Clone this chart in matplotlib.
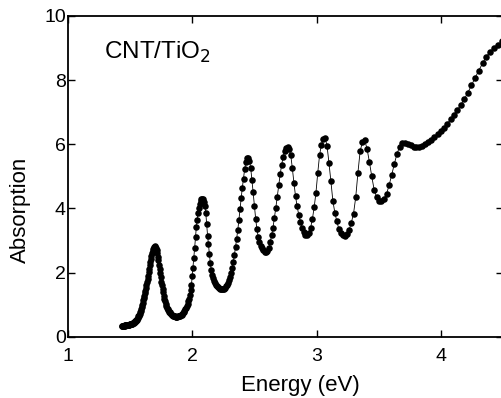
import matplotlib
matplotlib.use("Agg")
import matplotlib.pyplot as plt

plt.rcParams['font.family'] = ['Liberation Sans', 'DejaVu Sans']

# spectrum sampled every 2 nm, from 864 nm down to 274 nm
wavelength = list(range(864, 272, -2))
absorption = [
    0.33, 0.33, 0.33, 0.34, 0.34, 0.34, 0.34, 0.35,
    0.35, 0.35, 0.36, 0.36, 0.36, 0.37, 0.37, 0.37, 0.38, 0.38, 0.39, 0.39, 0.40, 0.40, 0.41,
    0.41, 0.42, 0.43, 0.44, 0.44, 0.45, 0.46, 0.48, 0.49, 0.51,
    0.53, 0.56, 0.59, 0.63, 0.66, 0.69, 0.72, 0.76, 0.80, 0.86, 0.92, 0.99, 1.06, 1.13, 1.20,
    1.27, 1.36, 1.44, 1.52, 1.60, 1.70, 1.80, 1.89, 2.01, 2.11,
    2.23, 2.32, 2.42, 2.52, 2.61, 2.67, 2.73, 2.78, 2.81, 2.82, 2.81, 2.77, 2.70, 2.61, 2.50,
    2.38, 2.24, 2.12, 1.99, 1.86, 1.72, 1.60, 1.48, 1.38, 1.28,
    1.19, 1.10, 1.02, 0.96, 0.91, 0.86, 0.82, 0.78, 0.76, 0.73, 0.71, 0.69, 0.67, 0.66, 0.65,
    0.64, 0.63, 0.62, 0.62, 0.62, 0.63, 0.63, 0.64, 0.66, 0.67,
    0.69, 0.72, 0.75, 0.78, 0.81, 0.85, 0.90, 0.96, 1.03, 1.11, 1.19, 1.30, 1.45, 1.62, 1.90,
    2.15, 2.46, 2.78, 3.10, 3.42, 3.65, 3.86, 4.02, 4.14, 4.23,
    4.28, 4.30, 4.28, 4.21, 4.08, 3.86, 3.52, 3.15, 2.88, 2.57, 2.30, 2.08, 1.93, 1.82, 1.74,
    1.67, 1.61, 1.58, 1.55, 1.52, 1.50, 1.49, 1.48, 1.49, 1.50,
    1.53, 1.57, 1.62, 1.69, 1.77, 1.87, 2.00, 2.15, 2.34, 2.56, 2.80, 3.06, 3.33, 3.64, 3.97,
    4.33, 4.65, 4.93, 5.23, 5.44, 5.56, 5.58, 5.48, 5.27, 4.90,
    4.50, 4.08, 3.68, 3.35, 3.12, 2.95, 2.84, 2.76, 2.69, 2.65, 2.63, 2.66, 2.76, 2.94, 3.16,
    3.40, 3.70, 4.02, 4.36, 4.72, 5.06, 5.36, 5.60, 5.78, 5.89,
    5.93, 5.85, 5.66, 5.25, 4.80, 4.38, 4.06, 3.80, 3.58, 3.40, 3.26, 3.18, 3.16, 3.23, 3.40,
    3.66, 4.03, 4.48, 5.10, 5.66, 5.98, 6.16, 6.21, 5.95, 5.42,
    4.85, 4.24, 3.87, 3.60, 3.36, 3.22, 3.16, 3.14, 3.20, 3.34, 3.56, 3.84, 4.35, 5.12, 5.80,
    6.06, 6.12, 5.86, 5.45, 5.00, 4.58, 4.36, 4.24, 4.23, 4.30,
    4.45, 4.72, 5.04, 5.38, 5.70, 5.92, 6.03, 6.05, 6.01, 5.97, 5.93, 5.92, 5.93, 5.96, 6.00,
    6.06, 6.14, 6.22, 6.31, 6.42, 6.52, 6.64, 6.78, 6.92, 7.07,
    7.23, 7.41, 7.61, 7.84, 8.07, 8.30, 8.52, 8.73, 8.89, 9.01, 9.11, 9.21, 9.31,
]
energy = [1239.84 / w for w in wavelength]

x_ticks = [1, 2, 3, 4]
y_ticks = [0, 2, 4, 6, 8, 10]

fig = plt.figure(figsize=(5.02, 3.98), dpi=100)
ax = fig.add_axes([68 / 502, 1 - 336.7 / 398, 435 / 502, 320.7 / 398])

ax.plot(energy, absorption, color='black', lw=0.6, marker='o', ms=4.7,
        markeredgewidth=0, markerfacecolor='black')

ax.set_xlim(1, 4.5)
ax.set_ylim(0, 10)
ax.set_xticks(x_ticks)
ax.set_yticks(y_ticks)
ax.tick_params(direction='in', length=5, width=1, top=True, right=True,
               labelsize=14)
ax.tick_params(axis='y', pad=1.5)
ax.tick_params(axis='x', pad=8)
for s in ax.spines.values():
    s.set_linewidth(1.3)

ax.set_xlabel("Energy (eV)", fontsize=16)
ax.set_ylabel("Absorption", fontsize=16)
ax.xaxis.set_label_coords(0.535, -0.12)
ax.yaxis.set_label_coords(-0.085, 0.395)

ax.text(1.29, 8.65, "CNT/TiO$_2$", fontsize=17.5, ha='left', va='baseline')

fig.savefig("out.png", dpi=100)
